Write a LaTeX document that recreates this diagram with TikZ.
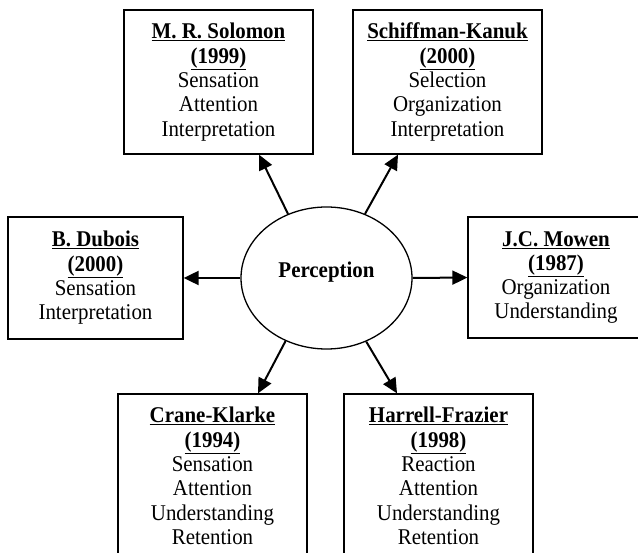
\documentclass[tikz,border=0pt]{standalone}
\usepackage{fontspec}
\setmainfont{Liberation Serif}[FakeStretch=0.93]
\usetikzlibrary{shapes.geometric,arrows.meta}
\begin{document}
\begin{tikzpicture}[x=1pt,y=-1pt,
  boxstyle/.style={draw,line width=1.3pt,inner sep=0pt,align=center,
    font=\fontsize{22.5}{24.3}\selectfont},
  arr/.style={line width=2pt,-{Triangle[length=15pt,width=14pt]}}]
\useasboundingbox (0,0) rectangle (638,553);
\clip (0,0) rectangle (638,553);
\node[boxstyle,minimum width=189,minimum height=144] (sol) at (218.5,82)
  {\underline{\textbf{M. R. Solomon}}\\\underline{\textbf{(1999)}}\\Sensation\\Attention\\Interpretation};
\node[boxstyle,minimum width=189,minimum height=144] (sch) at (447.5,82)
  {\underline{\textbf{Schiffman-Kanuk}}\\\underline{\textbf{(2000)}}\\Selection\\Organization\\Interpretation};
\node[boxstyle,minimum width=175,minimum height=122] (dub) at (95.5,278)
  {\underline{\textbf{B. Dubois}}\\\underline{\textbf{(2000)}}\\Sensation\\Interpretation};
\node[boxstyle,minimum width=176,minimum height=121] (mow) at (556,277.5)
  {\underline{\textbf{J.C. Mowen}}\\\underline{\textbf{(1987)}}\\Organization\\Understanding};
\node[boxstyle,minimum width=189,minimum height=164] (cra) at (212.5,476)
  {\underline{\textbf{Crane-Klarke}}\\\underline{\textbf{(1994)}}\\Sensation\\Attention\\Understanding\\Retention};
\node[boxstyle,minimum width=189,minimum height=164] (har) at (438.5,476)
  {\underline{\textbf{Harrell-Frazier}}\\\underline{\textbf{(1998)}}\\Reaction\\Attention\\Understanding\\Retention};
\node[ellipse,draw,line width=1.3pt,minimum width=171,minimum height=142,inner sep=0pt] (per) at (326.5,278) {};
\node[anchor=base,font=\fontsize{22.5}{24}\selectfont\bfseries] (ptxt) at (326.5,278) {Perception};
\coordinate (t1) at ([xshift=40.5pt]sol.south);
\coordinate (t2) at ([xshift=-49.5pt]sch.south);
\coordinate (t5) at ([xshift=45.5pt]cra.north);
\coordinate (t6) at ([xshift=-41.5pt]har.north);
\draw[arr] (per.121) -- (t1);
\draw[arr] (per.59) -- (t2);
\draw[arr] (per.west) -- (dub.east);
\draw[arr] (per.east) -- (mow.west);
\draw[arr] (per.237.5) -- (t5);
\draw[arr] (per.302.5) -- (t6);
\end{tikzpicture}
\end{document}
